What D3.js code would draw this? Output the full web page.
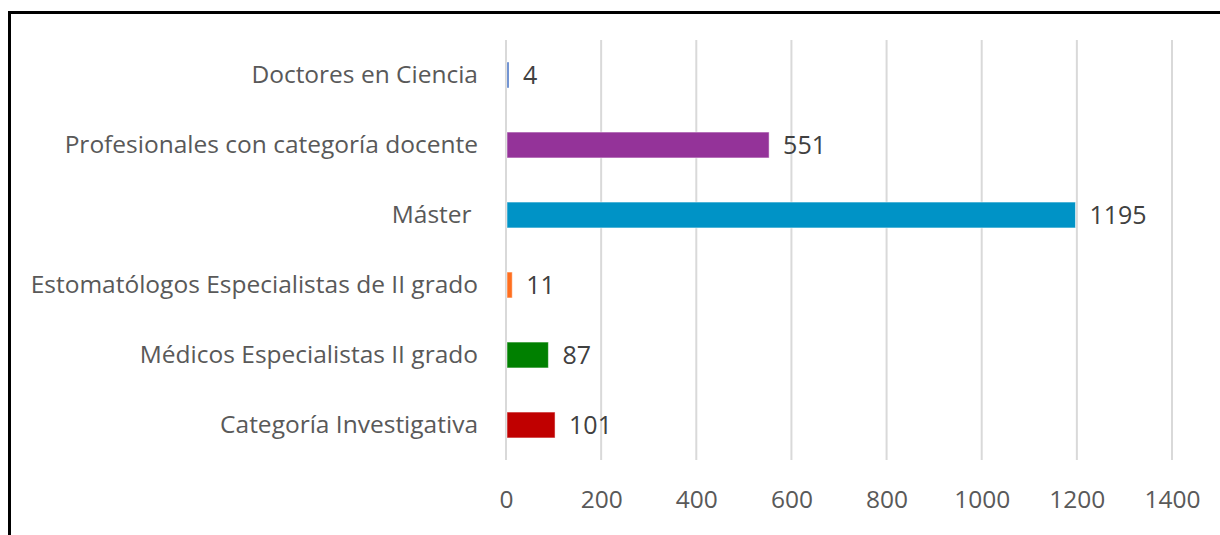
<!DOCTYPE html>
<html>
<head>
<meta charset="utf-8">
<script src="https://cdn.jsdelivr.net/npm/d3@7"></script>
<style>
  body { margin: 0; background: #fff; }
  text { font-family: "Open Sans", sans-serif; }
</style>
</head>
<body>
<div class="chart"></div>
<script>
// data
const categories = [
  'Doctores en Ciencia',
  'Profesionales con categoría docente',
  'Máster ',
  'Estomatólogos Especialistas de II grado',
  'Médicos Especialistas II grado',
  'Categoría Investigativa'
];
const values = [4, 551, 1195, 11, 87, 101];
const barColors = ['#4472C4', '#943399', '#0093C6', '#FF6F1F', '#008000', '#C00000'];
const xTicks = [0, 200, 400, 600, 800, 1000, 1200, 1400];

const width = 1220;
const height = 535;
const margin = {top: 40, left: 506, right: 48, bottom: 75};

const data = categories.map((c, i) => ({cat: c, value: values[i], color: barColors[i]}));

const svg = d3.select('.chart').append('svg')
  .attr('width', width).attr('height', height);

// outer frame (only top & left edges are in view)
svg.append('rect')
  .attr('x', 9.5).attr('y', 12.5)
  .attr('width', 1250).attr('height', 600)
  .attr('fill', 'none')
  .attr('stroke', '#000')
  .attr('stroke-width', 3);

const x = d3.scaleLinear()
  .domain([0, 1400])
  .range([margin.left, width - margin.right]);
const y = d3.scaleBand()
  .domain(categories)
  .range([margin.top, height - margin.bottom])
  .paddingInner(0.63)
  .paddingOuter(0.315);

// gridlines
svg.append('g')
  .selectAll('line')
  .data(xTicks)
  .enter()
  .append('line')
  .attr('x1', d => x(d)).attr('x2', d => x(d))
  .attr('y1', margin.top).attr('y2', height - margin.bottom)
  .attr('stroke', '#d9d9d9')
  .attr('stroke-width', 2);

// x axis labels
const xAxis = svg.append('g')
  .attr('transform', `translate(0, ${height - margin.bottom})`)
  .call(d3.axisBottom(x).tickValues(xTicks).tickSize(0).tickPadding(31).tickFormat(d3.format('d')));
xAxis.select('.domain').remove();
xAxis.selectAll('text')
  .attr('font-size', 24.5)
  .attr('font-family', '"Open Sans", sans-serif')
  .attr('fill', '#595959');

// y axis labels
const yAxis = svg.append('g')
  .attr('transform', `translate(${margin.left - 28}, 0)`)
  .call(d3.axisLeft(y).tickSize(0).tickPadding(0));
yAxis.select('.domain').remove();
yAxis.selectAll('text')
  .attr('font-size', 24.5)
  .attr('font-family', '"Open Sans", sans-serif')
  .attr('fill', '#595959')
  .style('white-space', 'pre');

// bars
svg.selectAll('.bar')
  .data(data)
  .enter()
  .append('rect')
  .attr('class', 'bar')
  .attr('x', x(0) + 1)
  .attr('y', d => y(d.cat))
  .attr('width', d => Math.max(x(d.value) - x(0), 2))
  .attr('height', y.bandwidth())
  .attr('fill', d => d.color)
  .attr('stroke', '#fff')
  .attr('stroke-opacity', 0.5)
  .attr('stroke-width', 1);

// value labels
svg.selectAll('.label')
  .data(data)
  .enter()
  .append('text')
  .attr('class', 'label')
  .attr('x', d => x(d.value) + 15)
  .attr('y', d => y(d.cat) + y.bandwidth() / 2)
  .attr('dy', '0.36em')
  .attr('font-size', 25)
  .attr('fill', '#404040')
  .text(d => d.value);
</script>
</body>
</html>
